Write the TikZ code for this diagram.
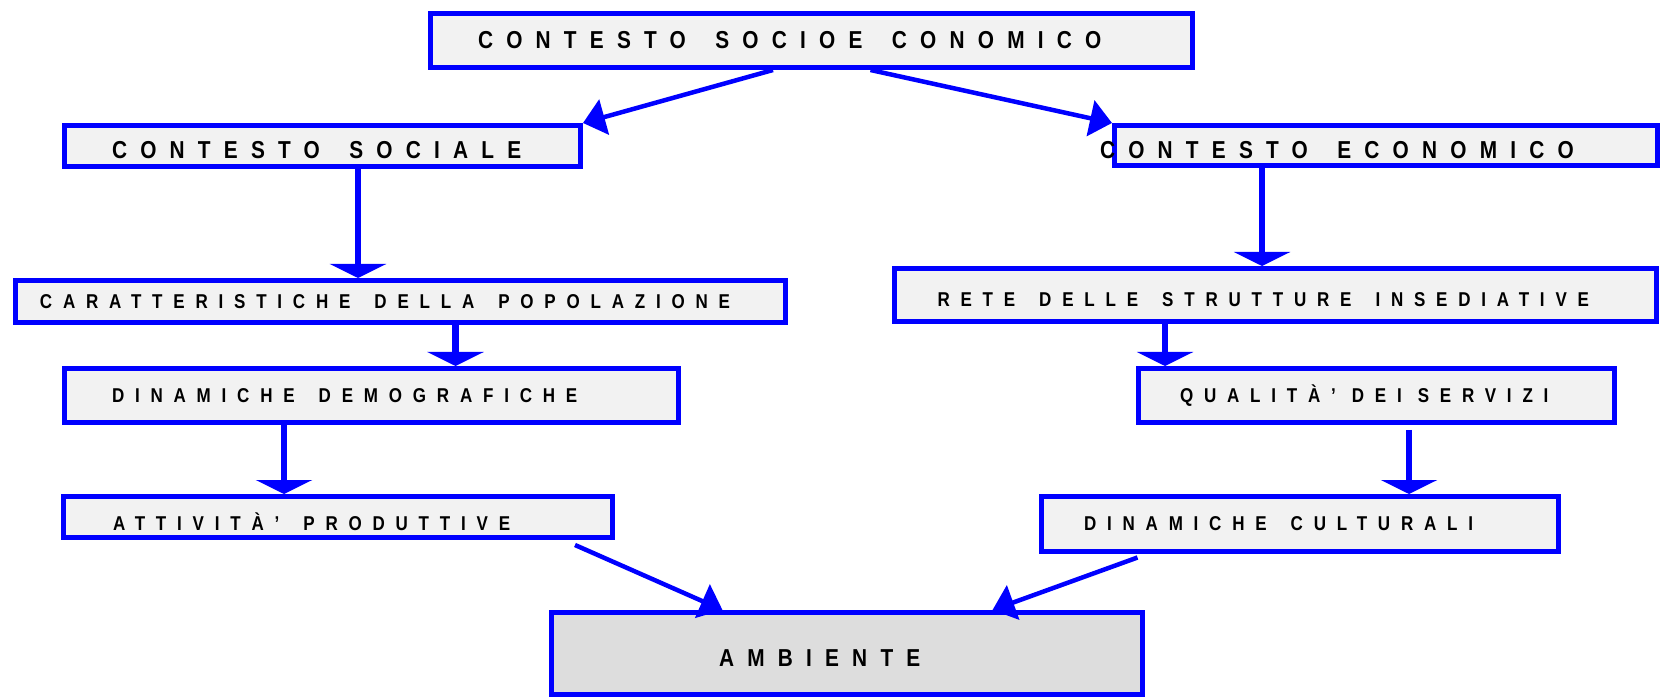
\documentclass[tikz,border=0pt]{standalone}
\usepackage{fontspec}
\usetikzlibrary{arrows.meta}
\newfontfamily\boxfont{Liberation Sans}[FakeStretch=0.85,LetterSpace=54]
\definecolor{boxblue}{RGB}{0,0,255}
\definecolor{boxgrey}{HTML}{F2F2F2}
\definecolor{ambgrey}{HTML}{DDDDDD}
\tikzset{
  box/.style={draw=boxblue,line width=5pt,fill=boxgrey,inner xsep=0pt,inner ysep=0pt,align=left,
    text depth=0pt,text height=13.8pt,
    font=\boxfont\bfseries\fontsize{20}{24}\selectfont,execute at begin node={\spaceskip=1.2em\relax}},
  bigbox/.style={box,text height=16.9pt,font=\boxfont\bfseries\fontsize{24.5}{29}\selectfont},
  varrow/.style={draw=boxblue,line width=6.5pt,-{Triangle[length=14pt,width=56pt]}},
  darrow/.style={draw=boxblue,line width=4.5pt,-{Triangle[length=22pt,width=36pt]}}
}
\begin{document}
\begin{tikzpicture}[x=1pt,y=-1pt]
\useasboundingbox (0,0) rectangle (1663,700);
\node[bigbox,text width=762pt,minimum height=54pt] (top) at (811.5,40.5) {\hspace*{47.5pt}CONTESTO SOCIOE CONOMICO};
\node[bigbox,text width=516pt,minimum height=41pt,text height=24.9pt] (soc) at (322.5,146) {\hspace*{47.5pt}CONTESTO SOCIALE};
\node[bigbox,text width=543pt,minimum height=40pt,text height=25.9pt] (eco) at (1386,145.5) {\hspace*{-14.5pt}CONTESTO ECONOMICO};
\node[box,text width=770pt,minimum height=42pt] (car) at (400.5,301.5) {\hspace*{24.5pt}CARATTERISTICHE DELLA POPOLAZIONE};
\node[box,text width=762pt,minimum height=53pt,text height=23.8pt] (rete) at (1275.5,295) {\hspace*{43pt}RETE DELLE STRUTTURE INSEDIATIVE};
\node[box,text width=614pt,minimum height=54pt] (dyn) at (371.5,395.5) {\hspace*{47.5pt}DINAMICHE DEMOGRAFICHE};
\node[box,text width=476pt,minimum height=54pt,execute at begin node={\spaceskip=0.8em\relax}] (qual) at (1376.5,395.5) {\hspace*{41.5pt}QUALITÀ’ DEI SERVIZI};
\node[box,text width=549pt,minimum height=41pt,text height=26.8pt] (att) at (338,517) {\hspace*{49.5pt}ATTIVITÀ’ PRODUTTIVE};
\node[box,text width=517pt,minimum height=55pt] (cult) at (1300,524) {\hspace*{42.5pt}DINAMICHE CULTURALI};
\node[bigbox,fill=ambgrey,text width=591pt,minimum height=82pt,text height=25.9pt] (amb) at (847,653.5) {\hspace*{167.5pt}AMBIENTE};
\coordinate (c1) at (358,0);
\coordinate (c2) at (455.5,0);
\coordinate (c3) at (284,0);
\coordinate (c4) at (1262,0);
\coordinate (c5) at (1165,0);
\coordinate (c6) at (1409,0);
\draw[darrow] ([xshift=-38.5pt]top.south) -- (soc.north east);
\draw[darrow] ([xshift=59pt]top.south) -- (eco.north west);
\draw[varrow] (soc.south -| c1) -- (car.north -| c1);
\draw[varrow] (car.south -| c2) -- (dyn.north -| c2);
\draw[varrow] (dyn.south -| c3) -- (att.north -| c3);
\draw[varrow] (eco.south -| c4) -- (rete.north -| c4);
\draw[varrow] (rete.south -| c5) -- (qual.north -| c5);
\draw[varrow] ([yshift=-5pt]qual.south -| c6) -- (cult.north -| c6);
\draw[darrow] ([xshift=514pt,yshift=-5pt]att.south west) -- ([xshift=173.5pt]amb.north west);
\draw[darrow] ([xshift=98.5pt,yshift=-3.5pt]cult.south west) -- ([xshift=443.5pt]amb.north west);
\end{tikzpicture}
\end{document}
